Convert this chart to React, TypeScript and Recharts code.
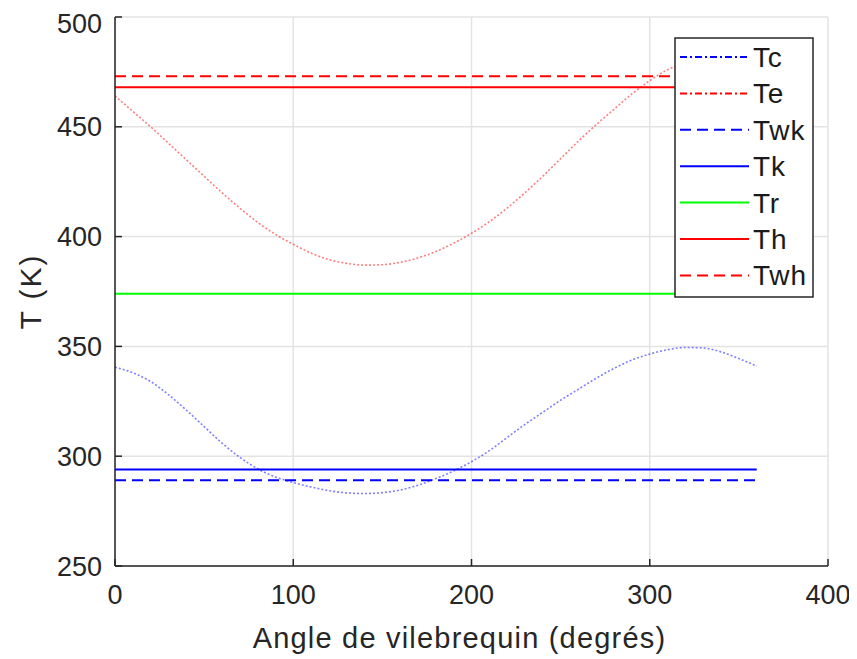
import { LineChart, Line, XAxis, YAxis, CartesianGrid, Legend, Label } from 'recharts';

// vilebrequin angle (deg) sampled every 10°
const angles = [
  0, 10, 20, 30, 40, 50, 60, 70, 80, 90, 100, 110, 120, 130, 140, 150, 160, 170, 180,
  190, 200, 210, 220, 230, 240, 250, 260, 270, 280, 290, 300, 310, 320, 330, 340, 350, 360,
];

// Tc : compression space temperature (K)
const tcValues = [
  340.5, 338, 334, 328, 321, 313.5, 306, 299.5, 294.3, 290.5, 288, 286, 284.3, 283.3, 283,
  283.4, 284.6, 286.8, 289.8, 293.3, 297.5, 302.5, 308.5, 314.5, 320, 325.5, 330.5, 335.5,
  340, 343.8, 346.5, 348.5, 349.5, 349.3, 347.5, 344.5, 341,
];

// Te : expansion space temperature (K)
const teValues = [
  464, 457, 450, 442.5, 435, 427.5, 420, 413, 406.5, 401, 396.5, 392.5, 389.5, 387.8, 387,
  387.2, 388.3, 390.3, 393.2, 397, 401.5, 406.8, 413, 420, 427.5, 435.5, 443.5, 451, 458,
  465, 471, 476, 478.8, 479.3, 477.5, 472, 464,
];

// constant temperatures (K)
const twkValue = 289;
const tkValue = 294;
const trValue = 374;
const thValue = 468;
const twhValue = 473;

const xTicks = [0, 100, 200, 300, 400];
const yTicks = [250, 300, 350, 400, 450, 500];

const legendNames = ['Tc', 'Te', 'Twk', 'Tk', 'Tr', 'Th', 'Twh'];
const legendColors = ['#0000ff', '#ff0000', '#0000ff', '#0000ff', '#00ff00', '#ff0000', '#ff0000'];
const legendDashes = ['7 3 2 3', '7 3 2 3', '11 6', '', '', '', '11 6'];

const chartData = angles.map((angle, i) => ({
  angle,
  Tc: tcValues[i],
  Te: teValues[i],
  Twk: twkValue,
  Tk: tkValue,
  Tr: trValue,
  Th: thValue,
  Twh: twhValue,
}));

const FONT = '"Liberation Sans", Arial, Helvetica, sans-serif';
const AXIS = '#262626';
const tickStyle = { fontSize: 27, fill: AXIS, fontFamily: FONT };

const LegendBox = () => (
  <svg width={140} height={262} style={{ display: 'block' }}>
    <rect x={1} y={1} width={138} height={259} fill="#fff" stroke={AXIS} strokeWidth={1.5} />
    {legendNames.map((name, i) => {
      const cy = 20 + i * 36.4;
      return (
        <g key={name}>
          <line
            x1={6}
            x2={75}
            y1={cy}
            y2={cy}
            stroke={legendColors[i]}
            strokeWidth={2}
            strokeDasharray={legendDashes[i] || undefined}
          />
          <text x={79} y={cy + 10} fontSize={28} letterSpacing={0.8} fill="#1a1a1a" fontFamily={FONT}>
            {name}
          </text>
        </g>
      );
    })}
  </svg>
);

export default function App() {
  return (
    <div style={{ width: 849, height: 651, fontFamily: FONT }}>
      <LineChart width={849} height={651} data={chartData} margin={{ top: 9, right: 29, bottom: 0, left: 0 }}>
        <CartesianGrid stroke="#e3e3e3" strokeWidth={1.5} />
        <XAxis
          dataKey="angle"
          type="number"
          domain={[0, 400]}
          ticks={xTicks}
          height={93}
          tickSize={-7}
          tickMargin={26}
          tick={tickStyle}
          stroke={AXIS}
          strokeWidth={1.5}
          allowDataOverflow
        >
          <Label
            content={({ viewBox }: any) => (
              <text
                x={viewBox.x + viewBox.width / 2 - 12}
                y={viewBox.y + 82}
                textAnchor="middle"
                fontSize={29}
                letterSpacing={1.2}
                fill={AXIS}
                fontFamily={FONT}
              >
                Angle de vilebrequin (degrés)
              </text>
            )}
          />
        </XAxis>
        <XAxis
          xAxisId="top"
          orientation="top"
          dataKey="angle"
          type="number"
          domain={[0, 400]}
          ticks={xTicks}
          height={0}
          tickSize={-7}
          tick={false}
          stroke={AXIS}
          strokeWidth={1.5}
        />
        <YAxis
          type="number"
          domain={[250, 500]}
          ticks={yTicks}
          width={107}
          tickSize={-7}
          tickMargin={20}
          tick={tickStyle}
          stroke={AXIS}
          strokeWidth={1.5}
          allowDataOverflow
        >
          <Label
            content={({ viewBox }: any) => {
              const cx = viewBox.x + 22;
              const cy = viewBox.y + viewBox.height / 2;
              return (
                <text
                  x={cx}
                  y={cy}
                  transform={`rotate(-90 ${cx} ${cy})`}
                  textAnchor="middle"
                  dominantBaseline="central"
                  fontSize={30}
                  letterSpacing={2}
                  fill={AXIS}
                  fontFamily={FONT}
                >
                  T (K)
                </text>
              );
            }}
          />
        </YAxis>
        <YAxis
          yAxisId="right"
          orientation="right"
          type="number"
          domain={[250, 500]}
          ticks={yTicks}
          width={0}
          tickSize={-7}
          tick={false}
          stroke={AXIS}
          strokeWidth={1.5}
        />

        <Line dataKey="Tc" type="monotone" stroke="#0000ff" strokeOpacity={0.5} strokeWidth={1.6} strokeDasharray="2 2" dot={false} isAnimationActive={false} />
        <Line dataKey="Te" type="monotone" stroke="#ff0000" strokeOpacity={0.5} strokeWidth={1.6} strokeDasharray="2 2" dot={false} isAnimationActive={false} />
        <Line dataKey="Twk" type="linear" stroke="#0000ff" strokeWidth={2} strokeDasharray="11 6" dot={false} isAnimationActive={false} />
        <Line dataKey="Tk" type="linear" stroke="#0000ff" strokeWidth={2} dot={false} isAnimationActive={false} />
        <Line dataKey="Tr" type="linear" stroke="#00ff00" strokeWidth={2} dot={false} isAnimationActive={false} />
        <Line dataKey="Th" type="linear" stroke="#ff0000" strokeWidth={2} dot={false} isAnimationActive={false} />
        <Line dataKey="Twh" type="linear" stroke="#ff0000" strokeWidth={2} strokeDasharray="11 6" dot={false} isAnimationActive={false} />

        <Legend
          layout="horizontal"
          verticalAlign="middle"
          content={() => <LegendBox />}
          wrapperStyle={{ position: 'absolute', left: 666, top: 29, width: 140, height: 262 }}
        />
      </LineChart>
    </div>
  );
}
